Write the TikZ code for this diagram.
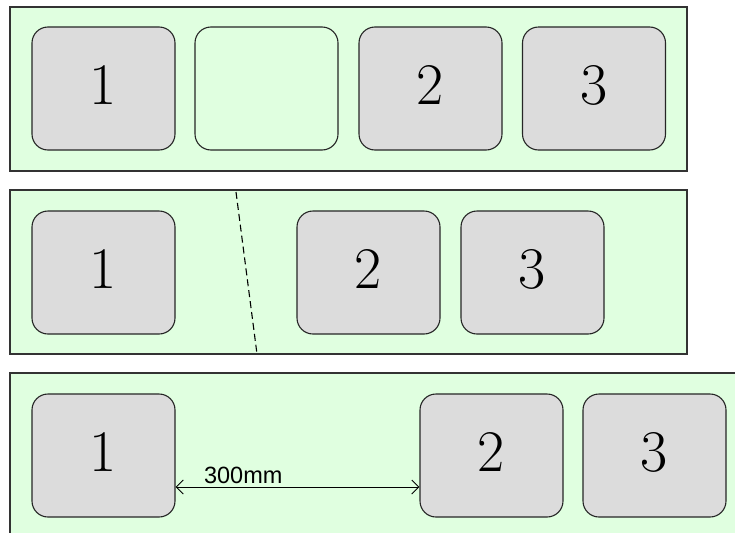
\documentclass[tikz,border=0pt]{standalone}
\usepackage{fontspec}
\newfontfamily\labelfont{Liberation Sans}
\usetikzlibrary{arrows.meta}
\definecolor{panelgreen}{HTML}{E0FFE0}
\definecolor{boxgray}{HTML}{DCDCDC}
\begin{document}
\begin{tikzpicture}[x=1pt,y=-1pt,
  panel/.style={draw=black!80, line width=1.2pt, fill=panelgreen},
  box/.style={draw=black!85, line width=1.1pt, rounded corners=16pt, fill=boxgray,
    minimum width=143pt, minimum height=123pt, inner sep=0pt, text depth=8pt,
    font=\fontsize{59}{61}\selectfont},
  emptybox/.style={box, fill=none},
  dim/.style={line width=1pt, {Straight Barb[length=7pt,width=14pt]}-{Straight Barb[length=7pt,width=14pt]}}]
\useasboundingbox (0,0) rectangle (735,533);
\fill[white] (0,0) rectangle (735,533);
% panel 1
\draw[panel] (10,7) rectangle (687,171);
\node[box] (a1) at (103.5,88.5) {1};
\node[emptybox] (a0) at (266.5,88.5) {};
\node[box] (a2) at (430.5,88.5) {2};
\node[box] (a3) at (594,88.5) {3};
% panel 2
\draw[panel] (10,190) rectangle (687,354);
\node[box] (b1) at (103.5,272.5) {1};
\node[box] (b2) at (368.5,272.5) {2};
\node[box] (b3) at (532.5,272.5) {3};
\coordinate (cuttop) at (236,192);
\coordinate (cutbot) at (257,354);
\draw[line width=1.1pt, dash pattern=on 7pt off 4pt] (cuttop) -- (cutbot);
% panel 3
\fill[panelgreen] (10,373) rectangle (735,533);
\draw[line width=1.2pt, draw=black!80] (735,373) -- (10,373) -- (10,533);
\node[box] (c1) at (103.5,455.5) {1};
\node[box] (c2) at (491.5,455.5) {2};
\node[box] (c3) at (654.5,455.5) {3};
\coordinate (dimy) at (0,487);
\draw[dim] (c1.east |- dimy) -- node[pos=0.115, anchor=base west, inner sep=0pt, yshift=4pt, font=\labelfont\fontsize{23.5}{25}\selectfont] (dimlabel) {300mm} (c2.west |- dimy);
\end{tikzpicture}
\end{document}
